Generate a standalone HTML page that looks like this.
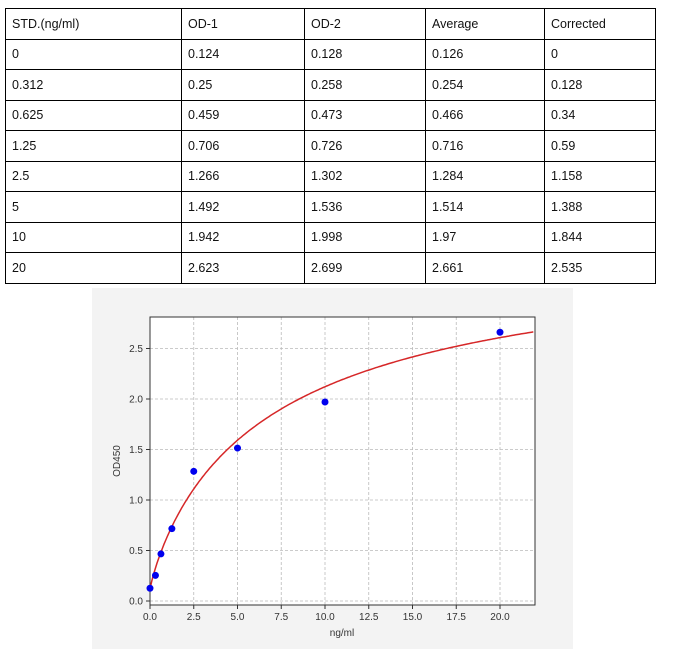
<!DOCTYPE html>
<html><head><meta charset="utf-8"><style>
body{margin:0;background:#fff;width:681px;height:649px;position:relative;font-family:"Liberation Sans",sans-serif;overflow:hidden}
table{position:absolute;left:5px;top:8px;border-collapse:collapse;font-size:12.5px;color:#111}
td{border:1px solid #000;height:30.5px;padding:0 0 0 6px;box-sizing:border-box}
#chart{position:absolute;left:92px;top:288px;width:481px;height:361px;background:#f3f3f3}
</style></head><body>
<table>
<colgroup><col style="width:176px"><col style="width:123px"><col style="width:121px"><col style="width:119px"><col style="width:111px"></colgroup>
<tr><td>STD.(ng/ml)</td><td>OD-1</td><td>OD-2</td><td>Average</td><td>Corrected</td></tr>
<tr><td>0</td><td>0.124</td><td>0.128</td><td>0.126</td><td>0</td></tr>
<tr><td>0.312</td><td>0.25</td><td>0.258</td><td>0.254</td><td>0.128</td></tr>
<tr><td>0.625</td><td>0.459</td><td>0.473</td><td>0.466</td><td>0.34</td></tr>
<tr><td>1.25</td><td>0.706</td><td>0.726</td><td>0.716</td><td>0.59</td></tr>
<tr><td>2.5</td><td>1.266</td><td>1.302</td><td>1.284</td><td>1.158</td></tr>
<tr><td>5</td><td>1.492</td><td>1.536</td><td>1.514</td><td>1.388</td></tr>
<tr><td>10</td><td>1.942</td><td>1.998</td><td>1.97</td><td>1.844</td></tr>
<tr><td>20</td><td>2.623</td><td>2.699</td><td>2.661</td><td>2.535</td></tr>
</table>
<div id="chart"></div>
<svg id="s" width="681" height="649" style="position:absolute;left:0;top:0" font-family="Liberation Sans, sans-serif"></svg>
<script>
var s=document.getElementById('s'),h='';
function X(v){return 150+17.5*v}function Y(v){return 601-101*v}
h+='<rect x="150" y="317" width="385" height="288" fill="#fff"/>';
for(var i=0;i<=8;i++){var x=X(i*2.5);h+='<line x1="'+x+'" y1="317" x2="'+x+'" y2="605" stroke="#bbb" stroke-dasharray="3,2" stroke-width="0.8"/>';
h+='<line x1="'+x+'" y1="605" x2="'+x+'" y2="609" stroke="#333"/><text x="'+x+'" y="620" font-size="10" text-anchor="middle" fill="#333">'+(i*2.5).toFixed(1)+'</text>';}
for(var j=0;j<=5;j++){var y=Y(j*0.5);h+='<line x1="150" y1="'+y+'" x2="535" y2="'+y+'" stroke="#bbb" stroke-dasharray="3,2" stroke-width="0.8"/>';
h+='<line x1="146" y1="'+y+'" x2="150" y2="'+y+'" stroke="#333"/><text x="143" y="'+(y+3.5)+'" font-size="10" text-anchor="end" fill="#333">'+(j*0.5).toFixed(1)+'</text>';}
h+='<rect x="150" y="317" width="385" height="288" fill="none" stroke="#333" stroke-width="1"/>';
var p='';for(var v=0;v<=22;v+=0.1){var b=0.88,yy=0.12+3.5*Math.pow(v,b)/(Math.pow(7.2,b)+Math.pow(v,b));p+=(p?'L':'M')+X(v).toFixed(1)+','+Y(yy).toFixed(1);}
h+='<path d="'+p+'" fill="none" stroke="#d62728" stroke-width="1.5"/>';
[[0,0.126],[0.312,0.254],[0.625,0.466],[1.25,0.716],[2.5,1.284],[5,1.514],[10,1.97],[20,2.661]].forEach(function(d){h+='<circle cx="'+X(d[0])+'" cy="'+Y(d[1])+'" r="3.5" fill="#0000ee"/>';});
h+='<text x="342" y="636" font-size="10" text-anchor="middle" fill="#333">ng/ml</text>';
h+='<text transform="translate(120,461) rotate(-90)" font-size="10" text-anchor="middle" fill="#333">OD450</text>';
s.innerHTML=h;
</script>
</body></html>
